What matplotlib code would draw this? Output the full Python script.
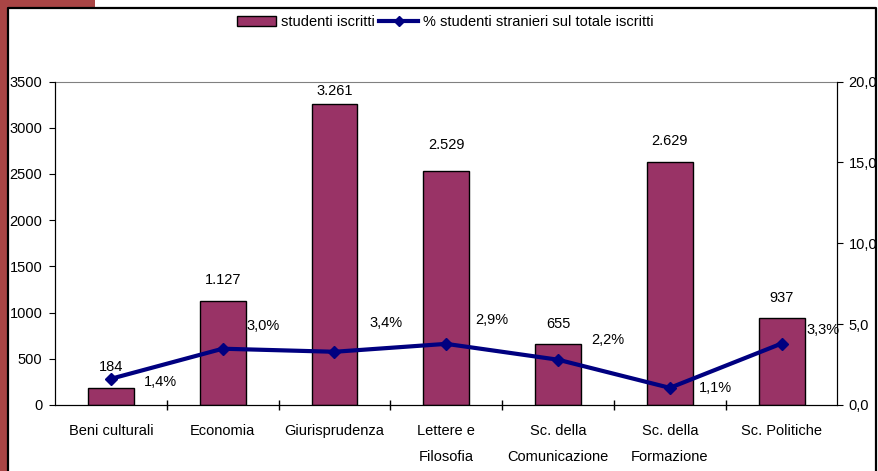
import matplotlib.pyplot as plt
from matplotlib.patches import Rectangle, Patch
from matplotlib.lines import Line2D
from matplotlib.ticker import FuncFormatter

plt.rcParams['font.family'] = ['Liberation Sans', 'DejaVu Sans']

# dati
facolta = ['Beni culturali', 'Economia', 'Giurisprudenza', 'Lettere e\nFilosofia',
           'Sc. della\nComunicazione', 'Sc. della\nFormazione', 'Sc. Politiche']
iscritti = [184, 1127, 3261, 2529, 655, 2629, 937]
iscritti_lbl = ['184', '1.127', '3.261', '2.529', '655', '2.629', '937']
perc_stranieri = [1.62, 3.48, 3.29, 3.78, 2.8, 1.06, 3.8]
perc_lbl = ['1,4%', '3,0%', '3,4%', '2,9%', '2,2%', '1,1%', '3,3%']

BAR = '#993366'
LINEA = '#000080'
FS = 10.5

fig = plt.figure(figsize=(8.79, 4.71), dpi=100)
W, H = 879, 471

# cornice rossa + bordo nero
fig.patches.append(Rectangle((0, 0), 8 / W, 1, transform=fig.transFigure,
                             facecolor='#A94545', edgecolor='none', zorder=0))
fig.patches.append(Rectangle((0, 1 - 7 / H), 95 / W, 7 / H, transform=fig.transFigure,
                             facecolor='#A94545', edgecolor='none', zorder=0))
fig.add_artist(Line2D([8 / W, 8 / W, 876 / W, 876 / W], [0, 1 - 7.5 / H, 1 - 7.5 / H, 0],
                      transform=fig.transFigure, color='black', lw=1.6))

ax = fig.add_axes([55 / W, 66 / H, (837.5 - 55) / W, (405 - 81.5) / H])
x = list(range(len(facolta)))
ax.bar(x, iscritti, width=0.41, color=BAR, edgecolor='black', linewidth=1, zorder=2)
ax.set_xlim(-0.5, len(facolta) - 0.5)
ax.set_ylim(0, 3500)
ax.set_yticks(range(0, 3501, 500))
ax.set_xticks([i + 0.5 for i in x[:-1]])
ax.set_xticks(x, minor=True)
ax.set_xticklabels([])
ax.set_xticklabels(facolta, minor=True, fontsize=FS, linespacing=2.05, va='top')
ax.tick_params(axis='x', which='major', direction='inout', length=7, width=1)
ax.tick_params(axis='x', which='minor', length=0, pad=14)
ax.tick_params(axis='y', direction='out', length=4, labelsize=FS, pad=5)
ax.spines['top'].set_color('#808080')
for s in ['left', 'bottom', 'right']:
    ax.spines[s].set_color('black')

offs = [15, 15, 9, 19, 15, 15, 15]
for i, v in enumerate(iscritti):
    ax.annotate(iscritti_lbl[i], (i, v), xytext=(0, offs[i]), textcoords='offset points',
                ha='center', va='center', fontsize=FS)

ax2 = ax.twinx()
ax2.plot(x, perc_stranieri, color=LINEA, lw=3, marker='D', markersize=6, zorder=3)
ax2.set_ylim(0, 20)
ax2.set_yticks(range(0, 21, 5))
ax2.yaxis.set_major_formatter(FuncFormatter(lambda v, p: f'{v:.1f}'.replace('.', ',')))
ax2.tick_params(axis='y', direction='out', length=4, labelsize=FS, pad=4)
ax2.spines['top'].set_visible(False)

dx = [36, 29, 37, 33, 36, 33, 30]
dy = [-2, 16, 21, 17, 14, 0, 10]
for i, v in enumerate(perc_stranieri):
    ax2.annotate(perc_lbl[i], (i, v), xytext=(dx[i], dy[i]), textcoords='offset points',
                 ha='center', va='center', fontsize=FS)

handles = [Patch(facecolor=BAR, edgecolor='black', linewidth=1),
           Line2D([], [], color=LINEA, lw=3, marker='D', markersize=5)]
fig.legend(handles, ['studenti iscritti', '% studenti stranieri sul totale iscritti'],
           loc='center', bbox_to_anchor=(445 / W, 1 - 22 / H), ncol=2, frameon=False,
           fontsize=FS, handlelength=2.7, handletextpad=0.3, columnspacing=0.3)

fig.savefig('out.png', dpi=100)
